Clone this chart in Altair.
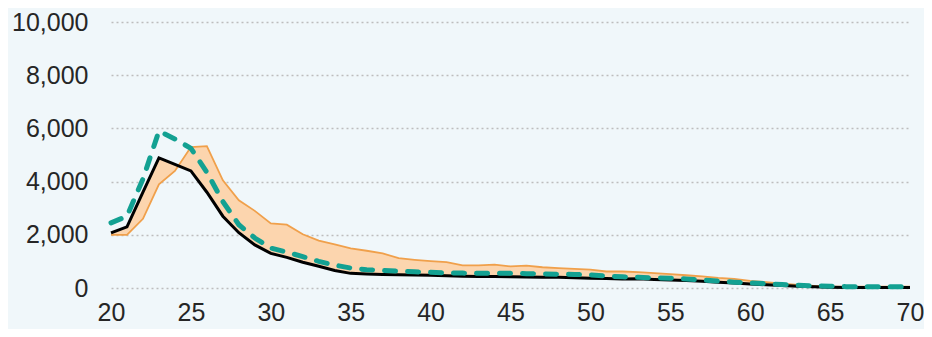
import altair as alt
import pandas as pd

ages = list(range(20, 71))
black_vals = [2070, 2300, 3600, 4890, 4650, 4400, 3600, 2700, 2080, 1620,
              1300, 1150, 970, 820, 660, 550, 530, 510, 500, 490,
              480, 460, 440, 430, 430, 420, 410, 400, 400, 390,
              370, 360, 340, 350, 320, 300, 280, 250, 220, 190,
              150, 120, 90, 70, 50, 30, 20, 20, 20, 20, 20]
orange_vals = [2000, 2000, 2600, 3900, 4400, 5300, 5330, 4050, 3300, 2900,
               2430, 2380, 2020, 1780, 1640, 1490, 1400, 1300, 1120, 1060,
               1010, 970, 850, 850, 880, 810, 840, 780, 750, 720,
               690, 620, 620, 600, 560, 520, 480, 440, 380, 340,
               270, 220, 160, 120, 80, 50, 50, 50, 50, 50, 50]
teal_vals = [2450, 2700, 4100, 5900, 5600, 5250, 4350, 3250, 2380, 1880,
             1500, 1350, 1180, 1000, 860, 750, 690, 660, 630, 610,
             590, 560, 560, 550, 550, 550, 540, 530, 520, 510,
             490, 450, 420, 400, 380, 370, 340, 300, 260, 220,
             190, 160, 130, 100, 80, 70, 50, 50, 50, 50, 50]
x_ticks = [20, 25, 30, 35, 40, 45, 50, 55, 60, 65, 70]
y_ticks = [0, 2000, 4000, 6000, 8000, 10000]

df = pd.DataFrame({"age": ages, "black": black_vals, "orange": orange_vals, "teal": teal_vals})

x_enc = alt.X("age:Q", scale=alt.Scale(domain=[20, 70], nice=False, zero=False),
              axis=alt.Axis(values=x_ticks, format="d", grid=False, title=None,
                            domain=False, ticks=False, labelPadding=12,
                            labelFontSize=25, labelColor="#262626", labelFont="Liberation Sans",
                            labelFlush=False, labelOverlap=False))
y_scale = alt.Scale(domain=[0, 10000], nice=False)
y_axis = alt.Axis(values=y_ticks, format=",d", title=None, domain=False, ticks=False,
                  grid=True, gridDash=[2, 3], gridColor="#BDBDBD", gridWidth=1.5,
                  labelPadding=23, labelFontSize=25, labelColor="#262626",
                  labelFont="Liberation Sans")

base = alt.Chart(df)

area = base.mark_area(color="#FCD5AE", opacity=1).encode(
    x=x_enc, y=alt.Y("orange:Q", scale=y_scale, axis=y_axis), y2="black:Q")
orange = base.mark_line(color="#F0A04B", strokeWidth=1.8).encode(
    x="age:Q", y="orange:Q")
black = base.mark_line(color="#000000", strokeWidth=3).encode(
    x="age:Q", y="black:Q")
teal = base.mark_line(color="#13A192", strokeWidth=5, strokeDash=[11, 12],
                      strokeCap="round").encode(
    x="age:Q", y="teal:Q")

chart = alt.layer(area, orange, black, teal).properties(
    width=799, height=266,
    autosize=alt.AutoSizeParams(type="none"),
    padding={"left": 103, "top": 14, "right": 14, "bottom": 41},
    background="#F0F7FA",
).configure_view(stroke=None)

chart.save("out.html", embed_options={"renderer": "svg", "actions": False})
